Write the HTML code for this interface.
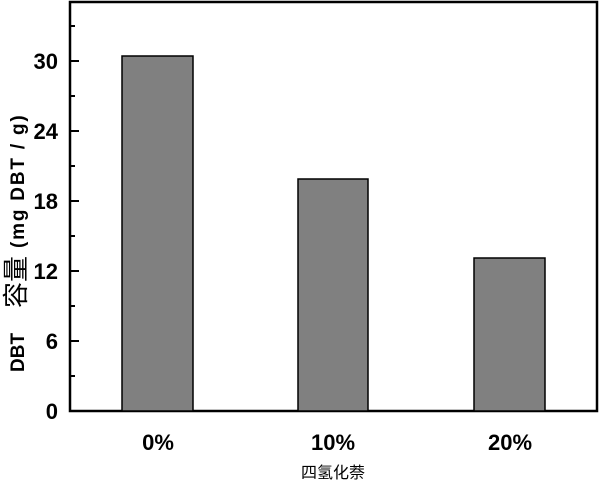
<!DOCTYPE html>
<html><head><style>body{margin:0;background:#fff}</style></head><body>
<svg width="600" height="489" xmlns="http://www.w3.org/2000/svg" font-family="Liberation Sans, Noto Sans CJK SC, sans-serif">
<rect x="70" y="2" width="527" height="409" fill="none" stroke="#000" stroke-width="2.5"/>
<g fill="#808080" stroke="#000" stroke-width="1.5">
<rect x="122" y="56" width="71" height="355"/>
<rect x="298" y="179" width="70" height="232"/>
<rect x="474" y="258" width="71" height="153"/>
</g>
<g stroke="#000" stroke-width="2">
<line x1="70" y1="411" x2="79" y2="411"/><line x1="70" y1="341" x2="79" y2="341"/>
<line x1="70" y1="271" x2="79" y2="271"/><line x1="70" y1="201" x2="79" y2="201"/>
<line x1="70" y1="131" x2="79" y2="131"/><line x1="70" y1="61" x2="79" y2="61"/>
<line x1="70" y1="376" x2="75" y2="376"/><line x1="70" y1="306" x2="75" y2="306"/>
<line x1="70" y1="236" x2="75" y2="236"/><line x1="70" y1="166" x2="75" y2="166"/>
<line x1="70" y1="96" x2="75" y2="96"/><line x1="70" y1="26" x2="75" y2="26"/>
</g>
<g font-size="22" font-weight="bold" text-anchor="end">
<text x="58" y="419">0</text><text x="58" y="349">6</text><text x="58" y="279">12</text>
<text x="58" y="209">18</text><text x="58" y="139">24</text><text x="58" y="69">30</text>
</g>
<g font-size="22" font-weight="bold" text-anchor="middle">
<text x="158" y="450">0%</text><text x="333" y="450">10%</text><text x="510" y="450">20%</text>
</g>
<text x="333" y="478" font-size="16" text-anchor="middle">四氢化萘</text>
<g font-weight="bold" font-size="19">
<text transform="translate(24,372) rotate(-90)">DBT</text>
<text transform="translate(25,308) rotate(-90)" font-size="26" font-weight="normal">容量</text>
<text transform="translate(24,248) rotate(-90)" letter-spacing="1.8">(mg DBT / g)</text>
</g>
</svg>
</body></html>
